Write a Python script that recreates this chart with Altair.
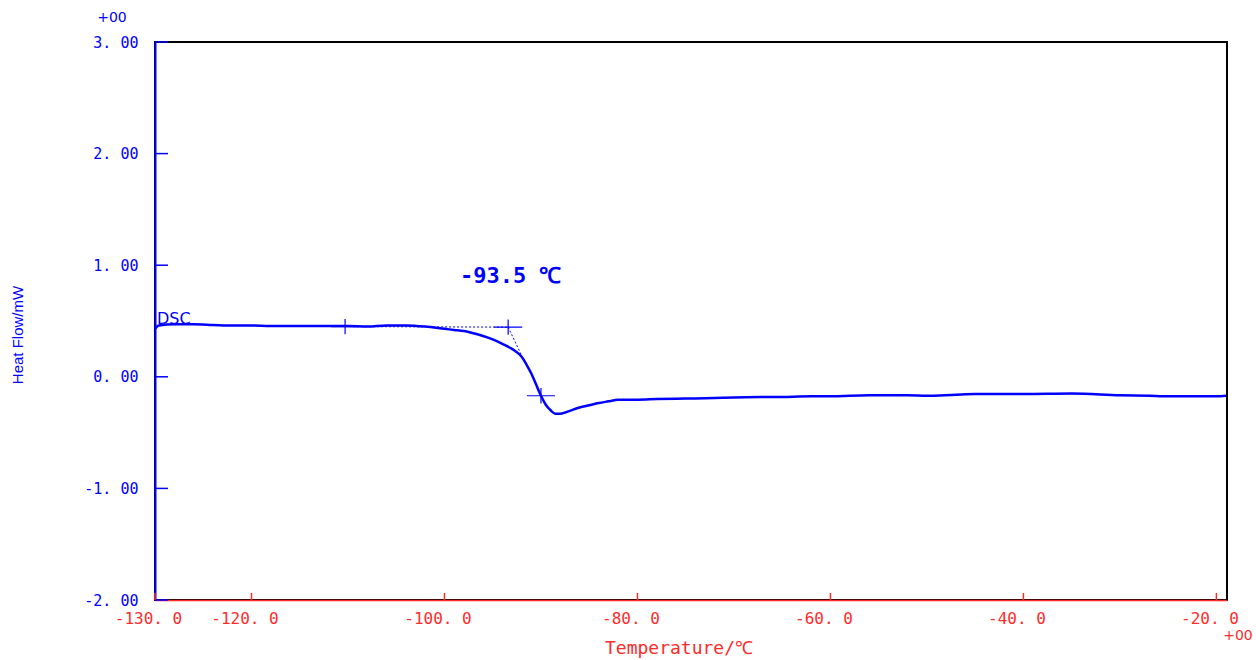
import altair as alt
import pandas as pd

# DSC curve (Temperature / degC, Heat Flow / mW)
temp = [-130, -129.6, -128, -126, -124, -122, -120, -118, -115, -112, -110, -108, -106, -104, -102,
        -100, -99, -98, -97, -96, -95, -94, -93, -92.5, -92, -91.5, -91, -90.5, -90, -89.5, -89,
        -88.5, -88, -87.5, -87, -86, -85, -84, -83, -82, -80, -78, -75, -72, -70, -65, -62, -60,
        -56, -52, -50, -47, -45, -40, -35, -30, -27, -25, -22, -20, -19]
heat = [0.43, 0.46, 0.47, 0.47, 0.465, 0.46, 0.46, 0.455, 0.455, 0.455, 0.455, 0.45, 0.46, 0.46, 0.45,
        0.43, 0.42, 0.41, 0.39, 0.365, 0.335, 0.295, 0.25, 0.22, 0.18, 0.11, 0.03, -0.07, -0.17, -0.25, -0.30,
        -0.33, -0.33, -0.32, -0.305, -0.275, -0.255, -0.235, -0.22, -0.205, -0.205, -0.20, -0.195, -0.19, -0.185,
        -0.18, -0.175, -0.175, -0.165, -0.165, -0.17, -0.16, -0.155, -0.155, -0.15, -0.165, -0.17, -0.175,
        -0.175, -0.175, -0.17]

# analysis markers
cross_t = [-110.3, -93.4, -90.0]
cross_h = [0.45, 0.445, -0.17]
base_t = [-110.3, -93.4]
base_h = [0.45, 0.445]
tan_t = [-93.4, -92.0]
tan_h = [0.445, 0.19]

x_ticks = [-130, -120, -100, -80, -60, -40, -20]
y_ticks = [-2, -1, 0, 1, 2, 3]

BLUE = "#0000FF"
RED = "#FF2A2A"
FONT = "DejaVu Sans Mono"

W, H = 1072, 558
xs = alt.Scale(domain=[-130, -18.9], nice=False, zero=False)
ys = alt.Scale(domain=[-2, 3], nice=False, zero=False)

curve_df = pd.DataFrame({"t": temp, "h": heat})
cross_df = pd.DataFrame({"t": cross_t, "h": cross_h})
base_df = pd.DataFrame({"t": base_t, "h": base_h})
tan_df = pd.DataFrame({"t": tan_t, "h": tan_h})
xt_df = pd.DataFrame({"t": x_ticks})
yt_df = pd.DataFrame({"h": y_ticks})
one = pd.DataFrame({"a": [0]})

xax = alt.X("t:Q", scale=xs, axis=alt.Axis(
    values=x_ticks, title=None, grid=False, ticks=False, tickSize=0,
    domainColor=RED, domainWidth=1.5, labelColor=RED, labelFont=FONT, labelFontSize=16,
    labelPadding=10, labelOffset=-7, labelFlush=False, labelOverlap=False, labelBound=False,
    labelExpr="replace(replace(format(datum.value, '.1f'), '.', '. '), '\u2212', '-')"))
yax = alt.Y("h:Q", scale=ys, axis=alt.Axis(
    values=y_ticks, title=None, grid=False, ticks=False, tickSize=0,
    domainColor=BLUE, domainWidth=2, labelColor=BLUE, labelFont=FONT, labelFontSize=15,
    labelPadding=17, labelFlush=False, labelOverlap=False, labelBound=False,
    labelExpr="replace(replace(format(datum.value, '.2f'), '.', '. '), '\u2212', '-')"))

curve = alt.Chart(curve_df).mark_line(color=BLUE, strokeWidth=2.5, interpolate="monotone").encode(x=xax, y=yax)

base = alt.Chart(base_df).mark_line(color=BLUE, strokeWidth=1, strokeDash=[2, 2]).encode(
    x=alt.X("t:Q", scale=xs), y=alt.Y("h:Q", scale=ys))
tan = alt.Chart(tan_df).mark_line(color=BLUE, strokeWidth=1, strokeDash=[2, 2]).encode(
    x=alt.X("t:Q", scale=xs), y=alt.Y("h:Q", scale=ys))

crosses = alt.Chart(cross_df).mark_point(
    shape="M-1,0L1,0M0,-0.55L0,0.55", size=784, filled=False, color=BLUE, strokeWidth=1.2, opacity=1
).encode(x=alt.X("t:Q", scale=xs), y=alt.Y("h:Q", scale=ys))

yticks = alt.Chart(yt_df).mark_rule(color=BLUE, strokeWidth=1.5).encode(
    y=alt.Y("h:Q", scale=ys), x=alt.value(0), x2=alt.value(13))
xticks = alt.Chart(xt_df).mark_rule(color=RED, strokeWidth=1.5).encode(
    x=alt.X("t:Q", scale=xs), y=alt.value(H - 7), y2=alt.value(H))

def label(txt, x, y, color, size, weight="normal", angle=0, align="center", font=FONT):
    return alt.Chart(one).mark_text(
        text=txt, color=color, fontSize=size, fontWeight=weight, angle=angle,
        align=align, baseline="middle", font=font
    ).encode(x=alt.value(x), y=alt.value(y))

texts = [
    label("-93.5 \u2103", 305, 234, BLUE, 22, "bold", align="left"),
    label("DSC", 2, 277, BLUE, 16, align="left", font="DejaVu Sans"),
    label("+00", -43, -24, BLUE, 14, font="DejaVu Sans"),
    label("+00", 1083, 594, RED, 14, font="DejaVu Sans"),
    label("Temperature/\u2103", 524, 607, RED, 18),
    label("Heat Flow/mW", -137, 293, BLUE, 15, angle=270, font="Liberation Sans"),
]

chart = alt.layer(curve, base, tan, crosses, yticks, xticks, *texts).properties(
    width=W, height=H,
    autosize=alt.AutoSizeParams(type="none"),
    padding={"left": 155, "top": 42, "right": 29, "bottom": 60},
    background="white",
).configure_view(stroke="black", strokeWidth=2)

chart.save("out.html", embed_options={"renderer": "svg", "actions": False})
